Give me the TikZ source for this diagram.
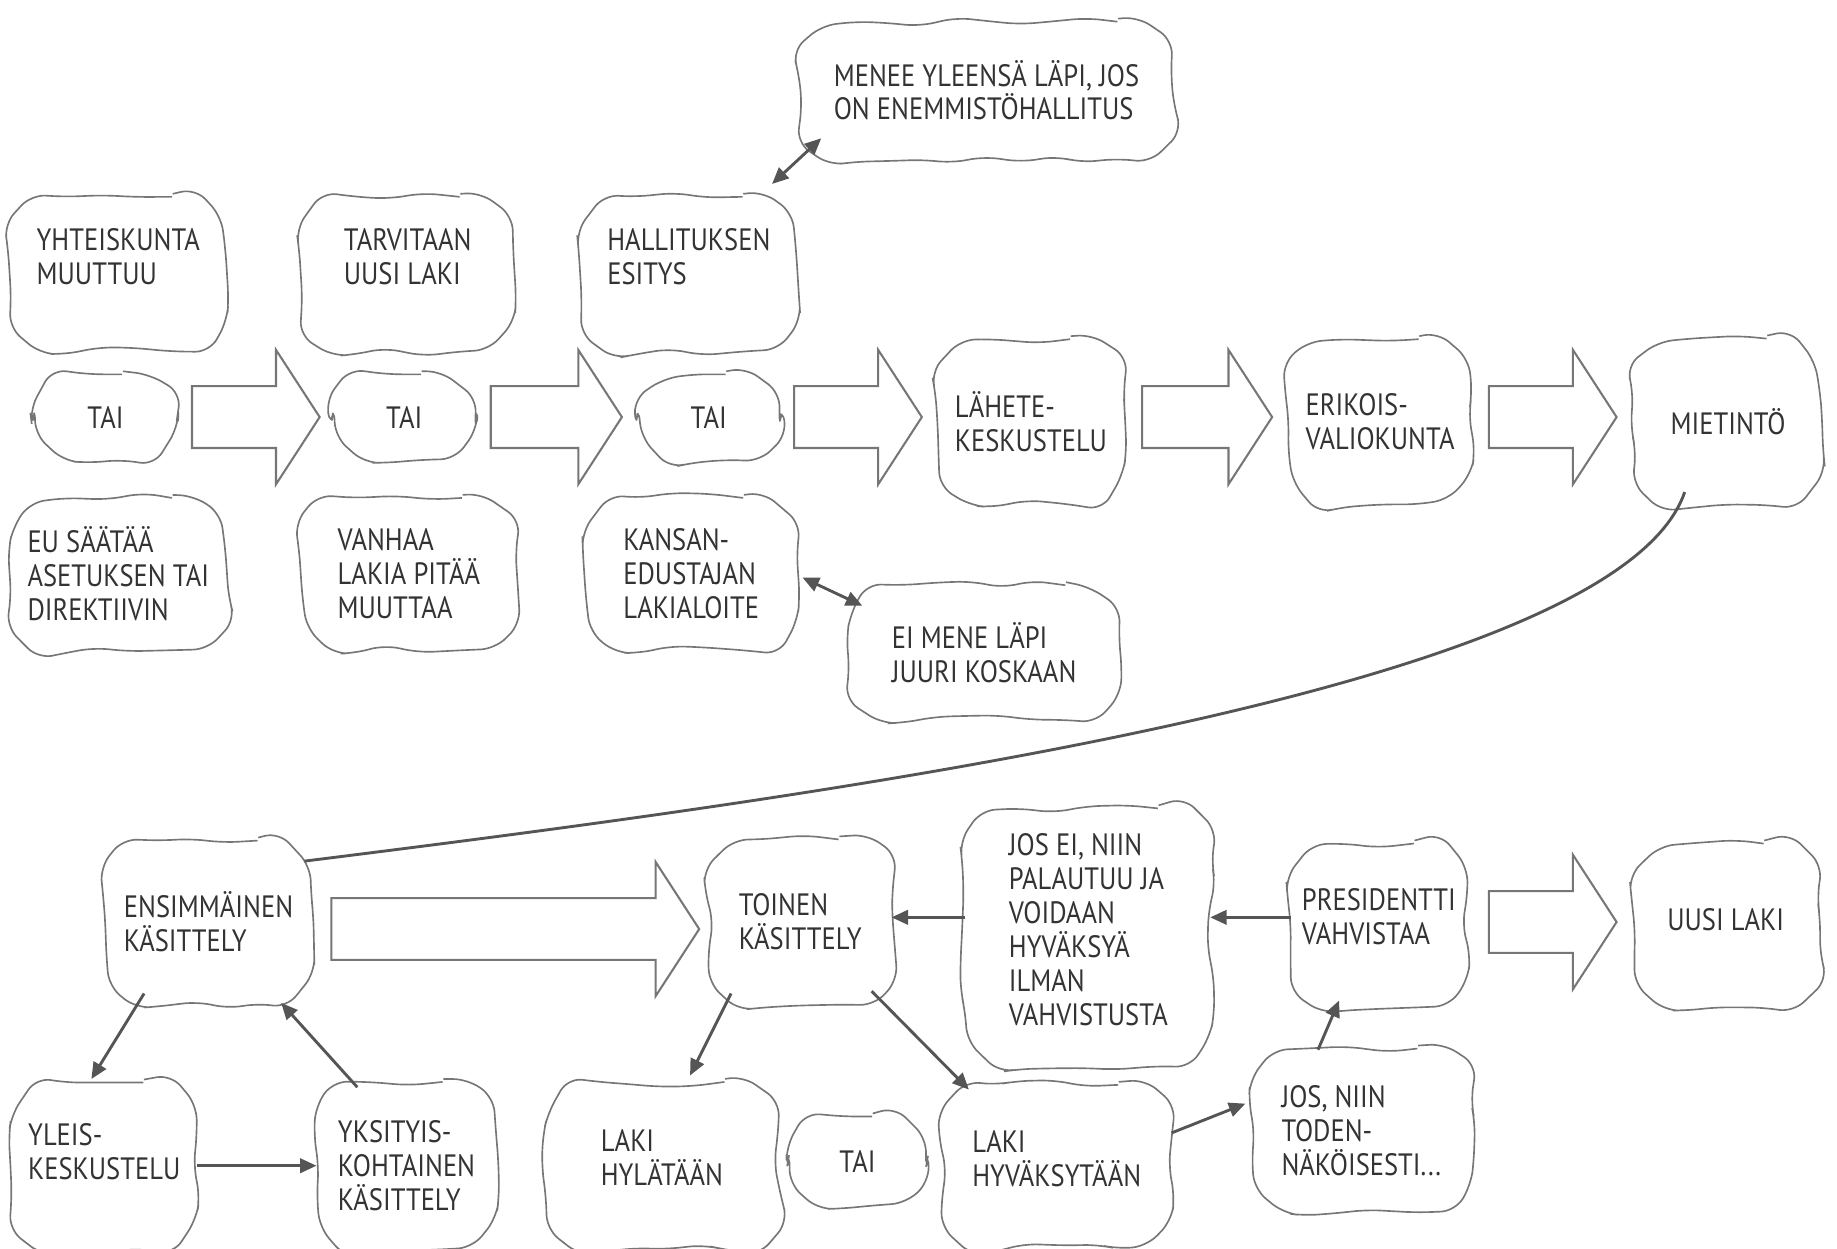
\documentclass[tikz,border=0pt]{standalone}
\usepackage{fontspec}
\setmainfont{PT Sans}[FakeStretch=0.86]
\usetikzlibrary{shapes.arrows,decorations.pathmorphing,arrows.meta,calc}
\definecolor{ink}{HTML}{333333}
\definecolor{edge}{HTML}{767676}
\definecolor{linkgray}{HTML}{555555}
\tikzset{
	blob/.style={rounded corners=26pt, align=left, text=ink, inner sep=4pt,
		font=\fontsize{15}{16.5}\selectfont,
		postaction={draw=edge, line width=.8pt, decorate,
			decoration={random steps, segment length=16pt, amplitude=2.6pt}, rounded corners=7pt}},
	blobsize/.style 2 args={minimum width=#1*0.02cm, minimum height=#2*0.02cm},
	lift/.style={text depth=#1},
	bigarrow/.style={single arrow, draw=edge, line width=1pt, fill=white, inner xsep=0pt, inner ysep=0.51cm,
		single arrow head extend=0.62cm, single arrow tip angle=114, anchor=tail},
	thinarrow/.style={draw=linkgray, line width=1.4pt, -{Triangle[length=8pt,width=7pt]}},
	twoarrow/.style={draw=linkgray, line width=1.4pt, {Triangle[length=8pt,width=7pt]}-{Triangle[length=8pt,width=7pt]}},
	curveline/.style={draw=linkgray, line width=1.4pt}
}
\begin{document}
\pgfmathsetseed{11}
\begin{tikzpicture}[x=0.02cm, y=-0.02cm]
	\useasboundingbox (0,0) rectangle (1568,1066);
	\node[blob, blobsize={183}{132}, lift=.6cm] (yht) at (101,234) {YHTEISKUNTA\\MUUTTUU};
	\node[blob, blobsize={180}{132}, lift=.6cm] (tarv) at (348,234) {TARVITAAN\\UUSI LAKI};
	\node[blob, blobsize={183}{132}, lift=.6cm] (hall) at (588,234) {HALLITUKSEN\\ESITYS};
	\node[blob, blobsize={315}{117}] (menee) at (842,77) {MENEE YLEENSÄ LÄPI, JOS\\ON ENEMMISTÖHALLITUS};
	\node[blob, blobsize={120}{73}] (tai1) at (90,356) {TAI};
	\node[blob, blobsize={120}{73}] (tai2) at (345,356) {TAI};
	\node[blob, blobsize={120}{73}] (tai3) at (605,356) {TAI};
	\node[blob, blobsize={158}{141}] (lahete) at (880,360) {LÄHETE-\\KESKUSTELU};
	\node[blob, blobsize={157}{141}] (erik) at (1178,360) {ERIKOIS-\\VALIOKUNTA};
	\node[blob, blobsize={157}{142}] (miet) at (1475,360) {MIETINTÖ};
	\node[blob, blobsize={183}{130}] (eu) at (101,490) {EU SÄÄTÄÄ\\ASETUKSEN TAI\\DIREKTIIVIN};
	\node[blob, blobsize={182}{130}] (vanh) at (349,490) {VANHAA\\LAKIA PITÄÄ\\MUUTTAA};
	\node[blob, blobsize={180}{130}] (kans) at (590,490) {KANSAN-\\EDUSTAJAN\\LAKIALOITE};
	\node[blob, blobsize={230}{115}] (eimene) at (840,557) {EI MENE LÄPI\\JUURI KOSKAAN};
	\node[blob, blobsize={175}{139}] (ens) at (178,787) {ENSIMMÄINEN\\KÄSITTELY};
	\node[blob, blobsize={157}{141}] (toinen) at (683,787) {TOINEN\\KÄSITTELY};
	\node[blob, blobsize={210}{220}, lift=.26cm] (josei) at (929,800) {JOS EI, NIIN\\PALAUTUU JA\\VOIDAAN\\HYVÄKSYÄ\\ILMAN\\VAHVISTUSTA};
	\node[blob, blobsize={151}{140}, lift=.3cm] (pres) at (1177,790) {PRESIDENTTI\\VAHVISTAA};
	\node[blob, blobsize={156}{140}, lift=.2cm] (uusi) at (1473,790) {UUSI LAKI};
	\node[blob, blobsize={158}{142}, lift=.5cm] (yleis) at (89,995) {YLEIS-\\KESKUSTELU};
	\node[blob, blobsize={153}{143}] (yksit) at (347,995) {YKSITYIS-\\KOHTAINEN\\KÄSITTELY};
	\node[blob, blobsize={198}{143}, lift=.28cm] (hyl) at (565,995) {LAKI\\HYLÄTÄÄN};
	\node[blob, blobsize={116}{76}] (tai4) at (732,991) {TAI};
	\node[blob, blobsize={196}{140}, lift=.3cm] (hyv) at (902,996) {LAKI\\HYVÄKSYTÄÄN};
	\node[blob, blobsize={187}{140}] (josniin) at (1162,965) {JOS, NIIN\\TODEN-\\NÄKÖISESTI...};
	\node[bigarrow, minimum height=2.18cm] (arr1) at (163,356) {};
	\node[bigarrow, minimum height=2.24cm] (arr2) at (418,356) {};
	\node[bigarrow, minimum height=2.18cm] (arr3) at (677,356) {};
	\node[bigarrow, minimum height=2.22cm] (arr4) at (974,356) {};
	\node[bigarrow, minimum height=2.18cm] (arr5) at (1270,356) {};
	\node[bigarrow, minimum height=6.28cm] (arr6) at (282,793) {};
	\node[bigarrow, minimum height=2.18cm] (arr7) at (1270,787) {};
	\draw[twoarrow] ($(hall)+(71,-77)$) -- ($(menee)+(-141,41)$);
	\draw[twoarrow] ($(kans)+(95,3)$) -- ($(eimene)+(-104,-40)$);
	\draw[curveline] ($(miet)+(-37,60)$) .. controls +(-58,170) and +(440,-55) .. ($(ens)+(82,-52)$);
	\draw[thinarrow] ($(ens)+(-55,61)$) -- ($(yleis)+(-11,-74)$);
	\draw[thinarrow] ($(yksit)+(-42,-67)$) -- ($(ens)+(62,69)$);
	\draw[thinarrow] (yleis.east) -- (yksit.west);
	\draw[thinarrow] ($(toinen)+(-59,61)$) -- ($(hyl)+(24,-77)$);
	\draw[thinarrow] ($(toinen)+(61,59)$) -- ($(hyv)+(-75,-66)$);
	\draw[thinarrow] ($(hyv)+(98,-29)$) -- ($(josniin)+(-99,-23)$);
	\draw[thinarrow] ($(josniin)+(-37,-69)$) -- ($(pres)+(-34,64)$);
	\draw[thinarrow] ($(pres)+(-75,-7)$) -- ($(josei)+(104,-17)$);
	\draw[thinarrow] ($(josei)+(-105,-17)$) -- ($(toinen)+(78,-4)$);
\end{tikzpicture}
\end{document}
